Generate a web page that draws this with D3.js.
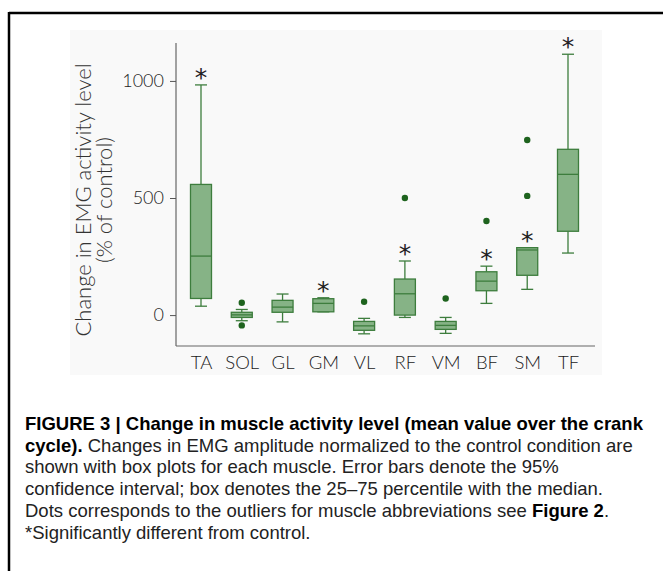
<!DOCTYPE html>
<html>
<head>
<meta charset="utf-8">
<script src="https://cdn.jsdelivr.net/npm/d3@7"></script>
<style>
  body { margin: 0; background: #ffffff; }
  svg { display: block; }
</style>
</head>
<body>
<svg id="chart" width="663" height="571"></svg>
<script>
// ---- data ----
const muscles      = ["TA", "SOL", "GL", "GM", "VL", "RF", "VM", "BF", "SM", "TF"];
const whiskerLow   = [38,  -24, -29, 14, -80, -10, -78, 50, 110, 265];
const q1           = [71,  -10,  12, 14, -65,   0, -61, 104, 170, 358];
const medians      = [252,   1,  34, 50, -46,  91, -44, 145, 278, 601];
const q3           = [558,  12,  63, 70, -27, 154, -27, 185, 288, 708];
const whiskerHigh  = [983,  24,  90, 74, -14, 231, -10, 209, 288, 1114];
const outliers     = [[], [53, -44], [], [], [57], [500], [71], [402], [509, 748], []];
const significant  = [true, false, false, true, false, true, false, true, true, true];
const yTicks       = [0, 500, 1000];
const yLabelLines  = ["Change in EMG activity level", "(% of control)"];
const captionLines = [
  [{t: "FIGURE 3 | Change in muscle activity level (mean value over the crank", b: true}],
  [{t: "cycle).", b: true}, {t: " Changes in EMG amplitude normalized to the control condition are", b: false}],
  [{t: "shown with box plots for each muscle. Error bars denote the 95%", b: false}],
  [{t: "confidence interval; box denotes the 25\u201375 percentile with the median.", b: false}],
  [{t: "Dots corresponds to the outliers for muscle abbreviations see ", b: false}, {t: "Figure 2", b: true}, {t: ".", b: false}],
  [{t: "*Significantly different from control.", b: false}]
];

const svg = d3.select("#chart");
const chartFont = "'URW Gothic', 'Century Gothic', Lato, 'DejaVu Sans', sans-serif";

// frame
svg.append("line").attr("x1", 9).attr("x2", 663).attr("y1", 13).attr("y2", 13)
  .attr("stroke", "#000").attr("stroke-width", 2.5);
svg.append("line").attr("x1", 9).attr("x2", 9).attr("y1", 12).attr("y2", 571)
  .attr("stroke", "#000").attr("stroke-width", 2.5);

// plot panel background
svg.append("rect").attr("x", 70).attr("y", 30).attr("width", 532).attr("height", 345)
  .attr("fill", "#f9f9f9");

// scales
const y = d3.scaleLinear().domain([-132, 1162]).range([346, 43]);
const x = d3.scalePoint().domain(muscles).range([201, 568]);
const boxW = 21;

// axes
const axisLeft = svg.append("g").attr("transform", "translate(176,0)")
  .call(d3.axisLeft(y).tickValues(yTicks).tickSize(6).tickPadding(6).tickFormat(d3.format("d")));
axisLeft.select(".domain").attr("d", `M0,${y.range()[1]}V${y.range()[0]}`).attr("stroke", "#666").attr("stroke-width", 1.2);
axisLeft.selectAll(".tick line").attr("stroke", "#555");
axisLeft.selectAll(".tick text").attr("font-family", chartFont).attr("font-size", 18)
  .attr("font-weight", 300).attr("fill", "#222");

const axisBottom = svg.append("g").attr("transform", "translate(0,346)")
  .call(d3.axisBottom(x).tickSize(0).tickPadding(10));
axisBottom.select(".domain").attr("d", "M176,0H595").attr("stroke", "#666").attr("stroke-width", 1.2);
axisBottom.selectAll(".tick text").attr("font-family", chartFont).attr("font-size", 18.5)
  .attr("font-weight", 300).attr("fill", "#1a1a1a");

// y label
const yl = svg.append("text").attr("transform", "translate(91,200) rotate(-90)")
  .attr("text-anchor", "middle").attr("font-family", chartFont).attr("font-size", 22)
  .attr("font-weight", 300).attr("fill", "#333");
yLabelLines.forEach((l, i) => yl.append("tspan").attr("x", 0).attr("dy", i === 0 ? 0 : 21).text(l));

// boxes
const stroke = "#3d7d3d";
const fill = "#86b386";
const g = svg.append("g");
muscles.forEach((m, i) => {
  const cx = x(m);
  const gg = g.append("g");
  gg.append("line").attr("x1", cx).attr("x2", cx).attr("y1", y(whiskerHigh[i])).attr("y2", y(q3[i]))
    .attr("stroke", stroke).attr("stroke-width", 1.3);
  gg.append("line").attr("x1", cx).attr("x2", cx).attr("y1", y(q1[i])).attr("y2", y(whiskerLow[i]))
    .attr("stroke", stroke).attr("stroke-width", 1.3);
  [whiskerHigh[i], whiskerLow[i]].forEach(v => {
    gg.append("line").attr("x1", cx - 6).attr("x2", cx + 6).attr("y1", y(v)).attr("y2", y(v))
      .attr("stroke", stroke).attr("stroke-width", 1.3);
  });
  gg.append("rect").attr("x", cx - boxW / 2).attr("width", boxW)
    .attr("y", y(q3[i])).attr("height", y(q1[i]) - y(q3[i]))
    .attr("fill", fill).attr("stroke", stroke).attr("stroke-width", 1.3);
  gg.append("line").attr("x1", cx - boxW / 2).attr("x2", cx + boxW / 2)
    .attr("y1", y(medians[i])).attr("y2", y(medians[i]))
    .attr("stroke", stroke).attr("stroke-width", 1.3);
  outliers[i].forEach(v => {
    gg.append("circle").attr("cx", cx).attr("cy", y(v)).attr("r", 3.2).attr("fill", "#1e631e");
  });
  if (significant[i]) {
    gg.append("text").attr("x", cx).attr("y", y(whiskerHigh[i]) + 1)
      .attr("text-anchor", "middle").attr("font-family", "'DejaVu Sans', sans-serif")
      .attr("font-size", 25).attr("fill", "#222").text("*");
  }
});

// caption
const cap = svg.append("g");
const capTexts = [];
captionLines.forEach((line, i) => {
  const t = cap.append("text").attr("x", 25).attr("y", 430 + i * 21.7)
    .attr("font-family", "'Liberation Sans', Arial, sans-serif").attr("font-size", 15).attr("fill", "#222");
  line.forEach(seg => {
    t.append("tspan").attr("font-weight", seg.b ? "bold" : "normal")
      .attr("fill", seg.b ? "#000" : "#222").text(seg.t);
  });
  capTexts.push(t);
});
// scale caption font so that first line spans the reference width
const w0 = capTexts[0].node().getComputedTextLength();
const fs = 15 * 618 / w0;
capTexts.forEach(t => t.attr("font-size", fs));
</script>
</body>
</html>
